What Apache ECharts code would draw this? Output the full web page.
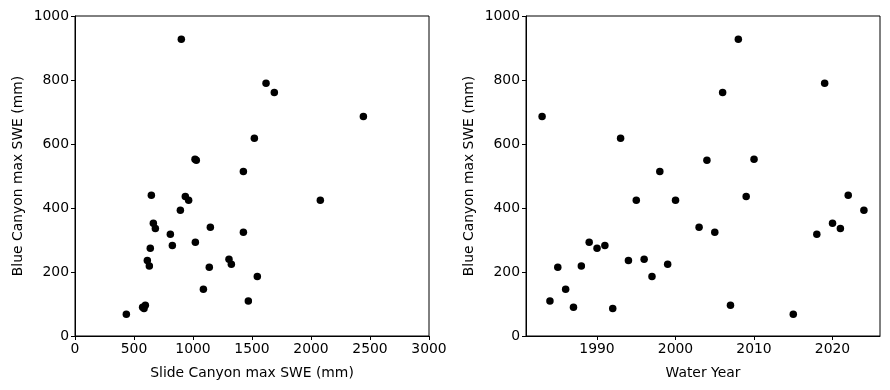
<!DOCTYPE html>
<html>
<head>
<meta charset="utf-8">
<script src="https://cdn.jsdelivr.net/npm/echarts@6/dist/echarts.min.js"></script>
<style>html,body{margin:0;padding:0;background:#fff}#c{width:890px;height:390px}</style>
</head>
<body>
<div id="c"></div>
<script>
// Water years
const years = [1983,1984,1985,1986,1987,1988,1989,1990,1991,1992,1993,1994,1995,1996,1997,1998,1999,2000,2003,2004,2005,2006,2007,2008,2009,2010,2015,2018,2019,2020,2021,2022,2024];
// Blue Canyon max SWE (mm)
const blueSWE = [686,109,215,146,90,219,293,274,283,86,618,236,424,240,186,514,224,424,340,549,324,761,96,927,436,552,68,318,790,352,336,440,393];
// Slide Canyon max SWE (mm)
const slideSWE = [2444,1469,1138,1088,573,630,1020,638,825,585,1520,613,963,1305,1545,1427,1325,2079,1147,1028,1427,1689,596,901,935,1017,435,808,1619,664,681,647,893];
const slideTicks = [0,500,1000,1500,2000,2500,3000];
const yearTicks = [1990,2000,2010,2020];
const yTicks = [0,200,400,600,800,1000];

const FONT = 'DejaVu Sans';
const FS = 13.9;
const axisCommon = {
  axisLine:{show:true,onZero:false,lineStyle:{color:'#000',width:1}},
  axisTick:{show:true,inside:false,length:4,lineStyle:{color:'#000',width:1}},
  axisLabel:{color:'#000',fontFamily:FONT,fontSize:FS,margin:6},
  splitLine:{show:false},
  nameTextStyle:{color:'#000',fontFamily:FONT,fontSize:FS}
};
function mk(o){
  const a = Object.assign({}, JSON.parse(JSON.stringify(axisCommon)), o);
  a.axisLabel.formatter = v => String(v);
  return a;
}

const chart = echarts.init(document.getElementById('c'), null, {renderer:'canvas'});
const xRight = mk({type:'value',gridIndex:1,min:1980.95,max:2026.05,name:'Water Year',nameLocation:'middle',nameGap:30});
xRight.axisTick.customValues = yearTicks;
xRight.axisLabel.customValues = yearTicks;
chart.setOption({
  animation:false,
  backgroundColor:'#fff',
  grid:[
    {left:75,top:16,width:354,height:320,show:true,borderColor:'#000',borderWidth:1,backgroundColor:'transparent'},
    {left:526,top:16,width:354,height:320,show:true,borderColor:'#000',borderWidth:1,backgroundColor:'transparent'}
  ],
  xAxis:[
    mk({type:'value',gridIndex:0,min:slideTicks[0],max:slideTicks[slideTicks.length-1],interval:500,name:'Slide Canyon max SWE (mm)',nameLocation:'middle',nameGap:30}),
    xRight
  ],
  yAxis:[
    mk({type:'value',gridIndex:0,min:yTicks[0],max:yTicks[yTicks.length-1],interval:200,name:'Blue Canyon max SWE (mm)',nameLocation:'middle',nameGap:50}),
    mk({type:'value',gridIndex:1,min:yTicks[0],max:yTicks[yTicks.length-1],interval:200,name:'Blue Canyon max SWE (mm)',nameLocation:'middle',nameGap:50})
  ],
  series:[
    {type:'scatter',xAxisIndex:0,yAxisIndex:0,symbolSize:7.5,itemStyle:{color:'#000',opacity:1},
     data:slideSWE.map((v,i)=>[v,blueSWE[i]])},
    {type:'scatter',xAxisIndex:1,yAxisIndex:1,symbolSize:7.5,itemStyle:{color:'#000',opacity:1},
     data:years.map((v,i)=>[v,blueSWE[i]])}
  ]
});
</script>
</body>
</html>
